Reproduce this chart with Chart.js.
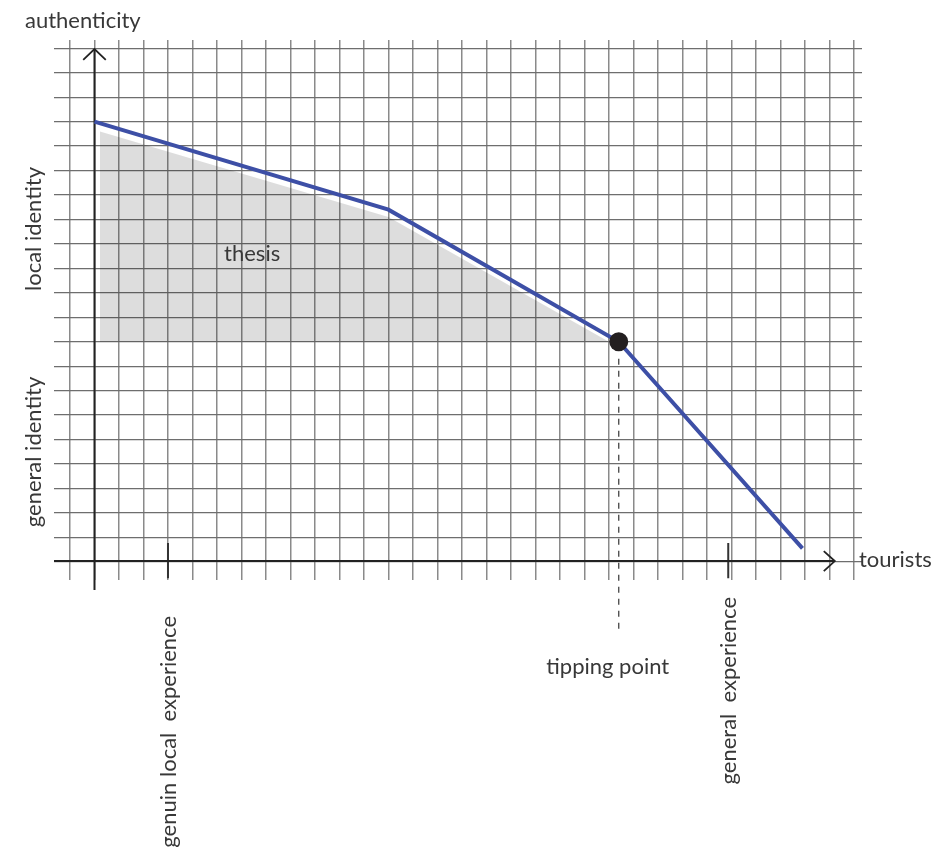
<!DOCTYPE html>
<html>
<head>
<meta charset="utf-8">
<script src="https://cdn.jsdelivr.net/npm/chart.js@4/dist/chart.umd.min.js"></script>
<style>
  html, body { margin: 0; padding: 0; background: #ffffff; }
  #wrap { width: 935px; height: 855px; }
</style>
</head>
<body>
<div id="wrap"><canvas id="c" width="935" height="855"></canvas></div>
<script>
// ---- data (in grid units: x = tourists, y = authenticity) ----
const curveX = [0, 12, 21.4, 28.9];
const curveY = [18, 14.4, 9, 0.55];

const thesisX = [0.22, 12, 21.0];
const thesisTop = [17.6, 14.1, 9.0];
const thesisBase = 9;

const tippingX = 21.4;
const tippingY = 9;

const xTickPositions = [3, 25.87];
const xTickLabels = ['genuin local  experience', 'general  experience'];

const gridXLines = [];
for (let k = -1; k <= 31; k++) gridXLines.push(k);
const gridYLines = [];
for (let k = 0; k <= 21; k++) gridYLines.push(k);

const xMin = -1.653, xMax = 31.33;
const yMin = -0.744, yMax = 21.34;

const yAxisTop = 20.97, yAxisBottom = -1.15;
const xAxisEnd = 30.22;
const dashBottom = -2.87, dashTop = 8.3;

// ---- datasets ----
const pts = (xs, ys) => xs.map((x, i) => ({ x: x, y: ys[i] }));

const datasets = [
  {
    label: 'thesis',
    data: pts(thesisX, thesisTop),
    showLine: true,
    fill: { value: thesisBase },
    backgroundColor: 'rgba(0,0,0,0.135)',
    borderWidth: 0,
    pointRadius: 0,
    order: 5
  },
  {
    label: 'y axis',
    data: [{ x: 0, y: yAxisBottom }, { x: 0, y: yAxisTop }],
    showLine: true, borderColor: '#222', borderWidth: 2, pointRadius: 0, clip: false, order: 4
  },
  {
    label: 'y arrow',
    data: [{ x: -0.46, y: yAxisTop - 0.44 }, { x: 0, y: yAxisTop }, { x: 0.46, y: yAxisTop - 0.44 }],
    showLine: true, borderColor: '#222', borderWidth: 1.8, pointRadius: 0, clip: false, order: 4
  },
  {
    label: 'x axis',
    data: [{ x: xMin, y: 0.03 }, { x: xAxisEnd, y: 0.03 }],
    showLine: true, borderColor: '#222', borderWidth: 2, pointRadius: 0, clip: false, order: 4
  },
  {
    label: 'x arrow',
    data: [{ x: xAxisEnd - 0.45, y: 0.44 }, { x: xAxisEnd, y: 0.03 }, { x: xAxisEnd - 0.45, y: -0.38 }],
    showLine: true, borderColor: '#222', borderWidth: 1.8, pointRadius: 0, clip: false, order: 4
  },
  ...xTickPositions.map((tx) => ({
    label: 'tick',
    data: [{ x: tx, y: 0.77 }, { x: tx, y: -0.67 }],
    showLine: true, borderColor: '#333', borderWidth: 2, pointRadius: 0, clip: false, order: 4
  })),
  {
    label: 'tipping dash',
    data: [{ x: tippingX, y: dashTop }, { x: tippingX, y: dashBottom }],
    showLine: true, borderColor: '#444', borderWidth: 1.3, borderDash: [6, 6], pointRadius: 0, clip: false, order: 3
  },
  {
    label: 'curve',
    data: pts(curveX, curveY),
    showLine: true, borderColor: '#3d4fa6', borderWidth: 4, pointRadius: 0,
    borderJoinStyle: 'miter', borderCapStyle: 'butt', fill: false, order: 2
  },
  {
    label: 'tipping point',
    data: [{ x: tippingX, y: tippingY }],
    showLine: false, pointRadius: 9.5, pointBackgroundColor: '#231f20', pointBorderWidth: 0, order: 1
  }
];

const FONT = 'Lato, "Open Sans", sans-serif';
const TXT = '#383838';

const labelsPlugin = {
  id: 'labels',
  afterDatasetsDraw(chart) {
    const ctx = chart.ctx;
    const xs = chart.scales.x, ys = chart.scales.y;
    ctx.save();
    ctx.fillStyle = TXT;
    ctx.font = '22px ' + FONT;
    ctx.textBaseline = 'alphabetic';

    // axis titles
    ctx.textAlign = 'left';
    ctx.fillText('authenticity', 25, 28);
    ctx.fillText('tourists', 859, 567);

    // thesis label
    ctx.fillText('thesis', xs.getPixelForValue(5.29), ys.getPixelForValue(12.3));

    // tipping point label
    ctx.textAlign = 'center';
    ctx.fillText('tipping point', xs.getPixelForValue(tippingX) - 11, 674);

    // rotated labels
    const rot = (text, x, y, align) => {
      ctx.save();
      ctx.translate(x, y);
      ctx.rotate(-Math.PI / 2);
      ctx.textAlign = align;
      ctx.fillText(text, 0, 0);
      ctx.restore();
    };
    rot('local identity', 41, 229, 'center');
    rot('general identity', 41, 452, 'center');

    rot(xTickLabels[0], xs.getPixelForValue(xTickPositions[0]) + 8, 616, 'right');
    rot(xTickLabels[1], xs.getPixelForValue(xTickPositions[1]) + 8, 597, 'right');
    ctx.restore();
  }
};

new Chart(document.getElementById('c'), {
  type: 'scatter',
  data: { datasets: datasets },
  options: {
    responsive: false,
    animation: false,
    events: [],
    layout: { padding: { left: 54, right: 73, top: 40, bottom: 275 } },
    plugins: { legend: { display: false }, tooltip: { enabled: false } },
    scales: {
      x: {
        type: 'linear', min: xMin, max: xMax,
        afterBuildTicks: (s) => { s.ticks = gridXLines.map((v) => ({ value: v })); },
        ticks: { display: false },
        grid: { color: '#8a8a8a', lineWidth: 1.5, drawTicks: false },
        border: { display: false }
      },
      y: {
        type: 'linear', min: yMin, max: yMax,
        afterBuildTicks: (s) => { s.ticks = gridYLines.map((v) => ({ value: v })); },
        ticks: { display: false },
        grid: { color: '#6e6e6e', lineWidth: 1.3, drawTicks: false },
        border: { display: false }
      }
    }
  },
  plugins: [labelsPlugin]
});
</script>
</body>
</html>
